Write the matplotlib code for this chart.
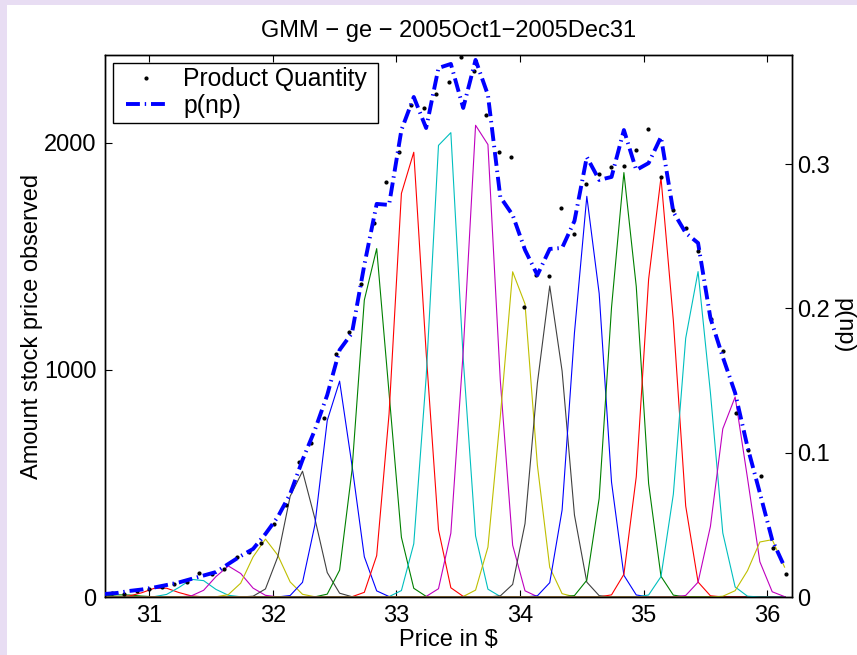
import numpy as np
import matplotlib
matplotlib.use("Agg")
import matplotlib.pyplot as plt
from matplotlib.lines import Line2D
from matplotlib.patches import Rectangle
from matplotlib.ticker import FuncFormatter

plt.rcParams.update({
    "font.family": ["Liberation Sans", "DejaVu Sans"],
    "font.size": 17,
    "axes.linewidth": 1.0,
    "xtick.direction": "in",
    "ytick.direction": "in",
    "xtick.major.size": 5,
    "ytick.major.size": 5,
    "lines.scale_dashes": False,
})

# ---------------------------------------------------------------------------
# Data
# ---------------------------------------------------------------------------
# observed prices and how many times each was seen
price = np.linspace(30.696, 36.15, 55)
quantity = [18, 12, 26, 35, 45, 57, 66, 105, 103, 123,
            176, 200, 239, 320, 403, 593, 680, 790, 1068, 1166,
            1376, 1646, 1825, 1961, 2166, 2151, 2213, 2265, 2377, 2315,
            2122, 1961, 1935, 1276, 1418, 1411, 1712, 1598, 1817, 1864,
            1895, 1896, 1968, 2061, 1848, 1702, 1624, 1522, 1225, 1083,
            810, 648, 531, 217, 100]

# price grid of the fitted curves
grid = np.linspace(30.64, 36.14, 56)
p_np = [0.0021, 0.0028, 0.0042, 0.0052, 0.0066, 0.0083, 0.0101, 0.0125,
        0.0149, 0.0173, 0.0229, 0.0284, 0.0333, 0.0437, 0.0555, 0.0714,
        0.0950, 0.1158, 0.1400, 0.1712, 0.1829, 0.2301, 0.2724, 0.2717,
        0.3236, 0.3465, 0.3250, 0.3666, 0.3694, 0.3389, 0.3722, 0.3479,
        0.2772, 0.2647, 0.2405, 0.2231, 0.2412, 0.2419, 0.2606, 0.3049,
        0.2890, 0.2911, 0.3236, 0.2959, 0.3007, 0.3188, 0.2668, 0.2523,
        0.2453, 0.1933, 0.1663, 0.1414, 0.1040, 0.0721, 0.0395, 0.0208]

# GMM components (mean price, peak height in counts)
comp_mean = [30.78, 31.092, 31.379, 31.65, 31.943, 32.222, 32.519, 32.813,
             33.104, 33.394, 33.684, 33.975, 34.244, 34.55, 34.845, 35.13,
             35.423, 35.715, 35.996]
comp_amp = [10, 42, 82, 137, 255, 560, 965, 1573,
            2048, 2200, 2221, 1494, 1370, 1770, 1870, 1853,
            1447, 900, 270]
comp_sigma = 0.12

# old MATLAB colour order, starting at green
mat_colors = {"b": (0, 0, 1), "g": (0, 0.5, 0), "r": (1, 0, 0),
              "c": (0, 0.75, 0.75), "m": (0.75, 0, 0.75),
              "y": (0.75, 0.75, 0), "k": (0.25, 0.25, 0.25)}
comp_color = list("grcmykbgrcmykbgrcmy")

# ---------------------------------------------------------------------------
fig = plt.figure(figsize=(8.57, 6.55), dpi=100)
fig.patch.set_facecolor("#E8DDF3")
fig.patches.append(Rectangle((7 / 857, 0), 1, 1 - 5 / 655,
                             transform=fig.transFigure, facecolor="white",
                             edgecolor="none", zorder=-10))

ax = fig.add_axes([105 / 857, 58 / 655, 687 / 857, 542 / 655])

for mu, amp, c in zip(comp_mean, comp_amp, comp_color):
    curve = amp * np.exp(-(grid - mu) ** 2 / (2 * comp_sigma ** 2))
    ax.plot(grid, curve, color=mat_colors[c], lw=0.8, zorder=2)

ax.plot(price, quantity, ".", color="k", ms=4, zorder=4)

ax.set_xlim(30.642, 36.2)
ax.set_ylim(0, 2386)
ax.set_xticks([31, 32, 33, 34, 35, 36])
ax.set_yticks([0, 1000, 2000])
ax.tick_params(axis="x", top=True, pad=6)
ax.tick_params(axis="y", right=True, pad=6)
ax.set_xlabel("Price in $", labelpad=1)
ax.set_ylabel("Amount stock price observed", va="center")
ax.yaxis.set_label_coords(-0.106, 0.5)
ax.set_title("GMM \u2212 ge \u2212 2005Oct1\u22122005Dec31", fontsize=17, pad=13)

ax2 = ax.twinx()
line_p, = ax2.plot(grid, p_np, color="blue", lw=2.8, zorder=5,
                   dashes=(10, 3.5, 1, 3.5), dash_capstyle="butt")
ax2.set_ylim(0, 0.3756)
ax2.set_yticks([0, 0.1, 0.2, 0.3])
ax2.yaxis.set_major_formatter(FuncFormatter(lambda v, _: f"{v:g}"))
ax2.tick_params(axis="y", pad=4)
ax2.set_ylabel("p(np)", rotation=-90, va="center")
ax2.yaxis.set_label_coords(1.075, 0.5)

# legend: frame drawn by hand so the padding matches
ax2.add_patch(Rectangle((0.0116, 0.874), 0.3858, 0.1118,
                        transform=ax2.transAxes, facecolor="white",
                        edgecolor="black", lw=1.0, zorder=8))
h_dot = Line2D([], [], color="k", marker=".", ls="none", ms=4)
leg = ax2.legend([h_dot, line_p], ["Product Quantity", "p(np)"],
                 loc="upper left", bbox_to_anchor=(0.031, 0.977),
                 borderaxespad=0, borderpad=0, frameon=False,
                 fontsize=17.8, handlelength=1.6, handletextpad=0.7,
                 labelspacing=0.1)
leg.set_zorder(9)

fig.savefig("out.png", dpi=100)
